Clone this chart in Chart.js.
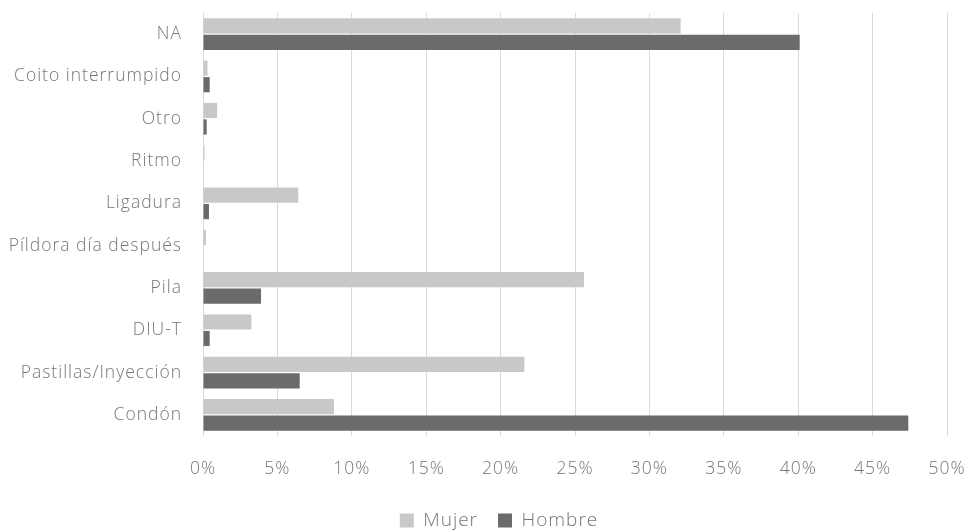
<!DOCTYPE html>
<html>
<head>
<meta charset="utf-8">
<script src="https://cdn.jsdelivr.net/npm/chart.js@4"></script>
<style>
  html, body { margin: 0; padding: 0; background: #fff; }
  #wrap { width: 967px; height: 530px; }
</style>
</head>
<body>
<div id="wrap"><canvas id="chart"></canvas></div>
<script>
const categories = ["NA", "Coito interrumpido", "Otro", "Ritmo", "Ligadura", "Píldora día después", "Pila", "DIU-T", "Pastillas/Inyección", "Condón"];
const mujer = [32.1, 0.3, 0.95, 0.1, 6.4, 0.2, 25.6, 3.25, 21.6, 8.8];
const hombre = [40.1, 0.45, 0.25, 0, 0.4, 0, 3.9, 0.45, 6.5, 47.4];
const xTicks = [0, 5, 10, 15, 20, 25, 30, 35, 40, 45, 50];

const textColor = "#767676";
const font = { family: "'Open Sans', sans-serif", weight: 300, size: 17.5 };

// text in the original is a bit wider than plain canvas text, and the legend sits right of centre
const spacingPlugin = {
  id: "spacing",
  afterLayout(chart) {
    if (chart.legend) {
      chart.legend.left += 20;
      chart.legend.right += 20;
    }
  },
  beforeDraw(chart) {
    chart.ctx.letterSpacing = "1px";
  },
};

new Chart(document.getElementById("chart"), {
  type: "bar",
  data: {
    labels: categories,
    datasets: [
      { label: "Mujer", data: mujer, backgroundColor: "#c9c8c7" },
      { label: "Hombre", data: hombre, backgroundColor: "#6b6b6b" },
    ],
  },
  plugins: [spacingPlugin],
  options: {
    indexAxis: "y",
    responsive: true,
    maintainAspectRatio: false,
    animation: false,
    categoryPercentage: 0.78,
    barPercentage: 0.92,
    layout: { padding: { left: 0, right: 20, top: 13, bottom: -10 } },
    plugins: {
      tooltip: { enabled: false },
      legend: {
        position: "bottom",
        labels: {
          color: textColor,
          font: { family: "'Open Sans', sans-serif", weight: 300, size: 19 },
          boxWidth: 14,
          boxHeight: 14,
          padding: 20,
        },
      },
    },
    scales: {
      x: {
        min: 0,
        max: 50,
        afterBuildTicks: (scale) => {
          scale.ticks = xTicks.map((v) => ({ value: v }));
        },
        afterFit: (scale) => { scale.height = 55; },
        ticks: {
          color: textColor,
          font,
          padding: 0,
          callback: (v) => v + "%",
        },
        grid: { color: "#d9d9d9", drawTicks: true, tickLength: 23, tickColor: "rgba(0,0,0,0)" },
        border: { display: false },
      },
      y: {
        afterFit: (scale) => { scale.width = 203; },
        ticks: { color: textColor, font, padding: 0 },
        grid: { display: true, drawOnChartArea: false, drawTicks: true, tickLength: 21, tickColor: "rgba(0,0,0,0)" },
        border: { display: false },
      },
    },
  },
});
</script>
</body>
</html>
